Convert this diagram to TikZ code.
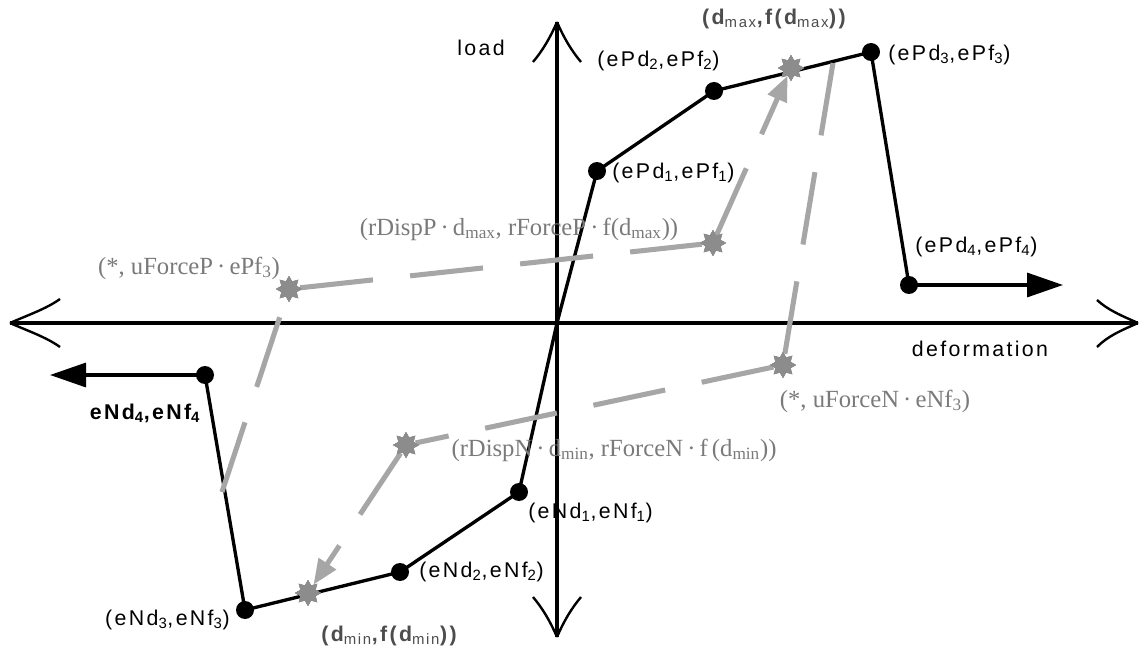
\documentclass[tikz,border=0pt]{standalone}
\usepackage{fontspec}
\setmainfont{Liberation Sans}[LetterSpace=11]
\newfontfamily\serfont{Liberation Serif}
\usetikzlibrary{shapes.geometric,arrows.meta}
\definecolor{dashgray}{HTML}{A6A6A6}
\definecolor{stargray}{HTML}{8C8C8C}
\definecolor{labgray}{HTML}{7A7A7A}
\definecolor{boldgray}{HTML}{4D4D4D}
\begin{document}
\begin{tikzpicture}[x=0.75pt,y=-0.75pt,
  dot/.style={circle,fill=black,inner sep=0pt,minimum size=13.5pt},
  starnode/.style={star,star points=8,star point ratio=1.6,fill=stargray,draw=stargray,inner sep=0pt,minimum size=19pt},
  curve/.style={line width=2.5pt,black},
  axis/.style={line width=2.6pt,black},
  barb/.style={line width=1.8pt,black},
  gdash/.style={draw=dashgray,line width=3.8pt,dash pattern=on 55pt off 28pt},
  garrow/.style={gdash,-{Triangle[length=19pt,width=15pt,fill=dashgray]}},
  barrow/.style={curve,-{Triangle[length=27pt,width=18pt]}},
  lab/.style={font=\fontsize{16}{18}\selectfont,inner sep=0pt},
  blab/.style={font=\fontsize{16}{18}\selectfont\bfseries,inner sep=0pt},
  glab/.style={font=\serfont\fontsize{18.5}{20}\selectfont,text=labgray,inner sep=0pt}]
\useasboundingbox (0,0) rectangle (1140,649);
% axes
\coordinate (L) at (10,323);
\coordinate (R) at (1138,323);
\coordinate (T) at (557,22);
\coordinate (B) at (557,637);
\coordinate (O) at (557,323);
\draw[axis] (L) -- (R);
\draw[axis] (T) -- (B);
\draw[barb] (L) .. controls (28,315) and (46,309) .. (60,299);
\draw[barb] (L) .. controls (28,331) and (46,337) .. (60,347);
\draw[barb] (R) .. controls (1120,315) and (1108,310) .. (1097,300);
\draw[barb] (R) .. controls (1120,331) and (1108,336) .. (1097,347);
\draw[barb] (T) .. controls (550,38) and (543,50) .. (533,62);
\draw[barb] (T) .. controls (564,38) and (571,50) .. (581,62);
\draw[barb] (B) .. controls (550,621) and (543,609) .. (533,597);
\draw[barb] (B) .. controls (564,621) and (571,609) .. (581,597);
\node[lab] (load) at (481,48) {load};
\node[lab] (deform) at (980,349) {deformation};
% backbone points
\coordinate (P1) at (597,171);
\coordinate (P2) at (714,91);
\coordinate (P3) at (871,52);
\coordinate (P4) at (909,285);
\coordinate (N1) at (519,492);
\coordinate (N2) at (400,572);
\coordinate (N3) at (245,610);
\coordinate (N4) at (205,375);
\coordinate (E4) at (1063,285);
\coordinate (W4) at (50,375);
\draw[curve,line join=round] (P4) -- (P3) -- (P2) -- (P1) -- (O) -- (N1) -- (N2) -- (N3) -- (N4);
\draw[barrow] (P4) -- (E4);
\draw[barrow] (N4) -- (W4);
% stars
\node[starnode] (sMax) at (791,68) {};
\node[starnode] (sRP) at (713,243) {};
\node[starnode] (sUP) at (289,289) {};
\node[starnode] (sUN) at (783,365) {};
\node[starnode] (sRN) at (406,445) {};
\node[starnode] (sMin) at (308,593) {};
\coordinate (G1) at (833,63);
\coordinate (G2) at (222,492);
% gray dashed cycle
\draw[gdash] (G1) -- (sUN);
\draw[gdash] (sUN) -- (sRN);
\draw[garrow] (sRN) -- (sMin);
\draw[gdash] (G2) -- (sUP);
\draw[gdash] (sUP) -- (sRP);
\draw[garrow] (sRP) -- (sMax);
% stars on top of the dashes
\foreach \s in {sMax,sRP,sUP,sUN,sRN,sMin} {\node[starnode] at (\s) {};}
% dots
\foreach \p in {P1,P2,P3,P4,N1,N2,N3,N4} {\node[dot] (d\p) at (\p) {};}
% labels
\node[blab,text=boldgray] (lmax) at (774,19) {(d\textsubscript{\mdseries max},f(d\textsubscript{\mdseries max}))};
\node[lab,anchor=west] (lP2) at (597,61) {(ePd\textsubscript{2},ePf\textsubscript{2})};
\node[lab,anchor=west] (lP3) at (888,55) {(ePd\textsubscript{3},ePf\textsubscript{3})};
\node[lab,anchor=west] (lP1) at (612,173) {(ePd\textsubscript{1},ePf\textsubscript{1})};
\node[lab,anchor=west] (lP4) at (915,247) {(ePd\textsubscript{4},ePf\textsubscript{4})};
\node[glab] (lRP) at (519,229) {(rDispP\,·\,d\textsubscript{max}, rForceP\,·\,f(d\textsubscript{max}))};
\node[glab] (lUP) at (189,268) {(*, uForceP\,·\,ePf\textsubscript{3})};
\node[glab] (lUN) at (875,401) {(*, uForceN\,·\,eNf\textsubscript{3})};
\node[glab] (lRN) at (614,450) {(rDispN\,·\,d\textsubscript{min}, rForceN\,·\,f\,(d\textsubscript{min}))};
\node[blab] (lN4) at (145,413) {eNd\textsubscript{4},eNf\textsubscript{4}};
\node[lab,anchor=west] (lN1) at (528,513) {(eNd\textsubscript{1},eNf\textsubscript{1})};
\node[lab,anchor=west] (lN2) at (419,572) {(eNd\textsubscript{2},eNf\textsubscript{2})};
\node[lab,anchor=east] (lN3) at (230,620) {(eNd\textsubscript{3},eNf\textsubscript{3})};
\node[blab,text=boldgray] (lmin) at (389,636) {(d\textsubscript{\mdseries min},f(d\textsubscript{\mdseries min}))};
\end{tikzpicture}
\end{document}
